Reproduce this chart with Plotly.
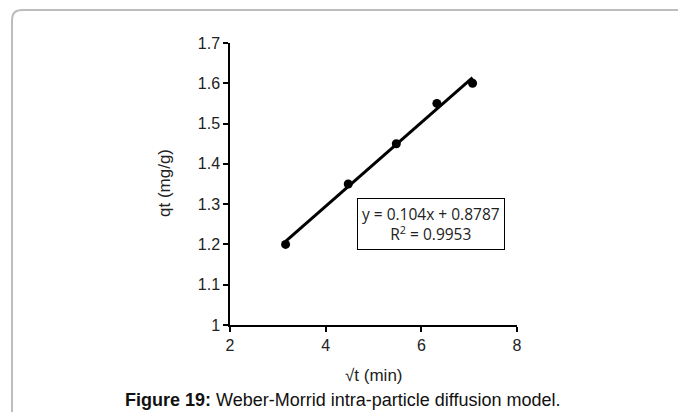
import plotly.graph_objects as go

# Data
sqrt_t = [3.162, 4.472, 5.477, 6.325, 7.071]
qt = [1.20, 1.35, 1.45, 1.55, 1.60]
slope = 0.104
intercept = 0.8787
r2 = 0.9953
x_ticks = [2, 4, 6, 8]
y_ticks = [1, 1.1, 1.2, 1.3, 1.4, 1.5, 1.6, 1.7]

W, H = 678, 412
def px(x):
    return x / W
def py(y):
    return 1 - y / H

fit_x = [min(sqrt_t), max(sqrt_t)]
fit_y = [slope * v + intercept for v in fit_x]

fig = go.Figure()
fig.add_trace(go.Scatter(x=fit_x, y=fit_y, mode="lines",
                         line=dict(color="black", width=3), showlegend=False, hoverinfo="skip"))
fig.add_trace(go.Scatter(x=sqrt_t, y=qt, mode="markers",
                         marker=dict(color="black", size=9), showlegend=False))

font = "Liberation Sans, Arial, sans-serif"
fig.update_layout(
    width=W, height=H,
    margin=dict(l=0, r=0, t=0, b=0),
    paper_bgcolor="white", plot_bgcolor="white",
    showlegend=False,
    font=dict(family=font, color="#222", size=16),
    xaxis=dict(domain=[px(230), px(517)], range=[2, 8], tickvals=x_ticks,
               showgrid=False, zeroline=False, showline=True, linecolor="black", linewidth=1.5,
               ticks="outside", ticklen=5, tickcolor="black", tickwidth=1.5,
               tickfont=dict(size=16, color="#222"), automargin=False, fixedrange=True),
    yaxis=dict(domain=[py(325), py(43)], range=[1, 1.7], tickvals=y_ticks,
               ticktext=[("%g" % v) for v in y_ticks],
               showgrid=False, zeroline=False, showline=True, linecolor="black", linewidth=1.5,
               ticks="outside", ticklen=5, tickcolor="black", tickwidth=1.5,
               tickfont=dict(size=16, color="#222"), automargin=False, fixedrange=True),
    shapes=[dict(type="path", xref="paper", yref="paper",
                 path=f"M {px(12)},{py(412)} L {px(12)},{py(20)} Q {px(12)},{py(10)} {px(22)},{py(10)} L {px(678)},{py(10)}",
                 line=dict(color="#bdbdbd", width=2))],
    annotations=[
        dict(text="qt (mg/g)", xref="paper", yref="paper", x=px(164), y=py(183),
             xanchor="center", yanchor="middle",
             textangle=-90, showarrow=False, font=dict(size=17, color="#222")),
        dict(text="√t (min)", xref="paper", yref="paper", x=px(374), y=py(375),
             xanchor="center", yanchor="middle",
             showarrow=False, font=dict(size=17, color="#222")),
        dict(text="<b>Figure 19:</b> Weber-Morrid intra-particle diffusion model.",
             xref="paper", yref="paper", x=px(343), y=py(400), showarrow=False,
             xanchor="center", yanchor="middle",
             font=dict(size=18, color="#111")),
        dict(text=f"y = {slope}x + {intercept}<br>R<sup>2</sup> = {r2}",
             xref="paper", yref="paper", x=px(431), y=py(224), showarrow=False,
             xanchor="center", yanchor="middle",
             bordercolor="black", borderwidth=1, borderpad=4, bgcolor="white",
             font=dict(size=15.5, color="#222", family="Open Sans, sans-serif")),
    ],
)

fig.write_html("out.html")
